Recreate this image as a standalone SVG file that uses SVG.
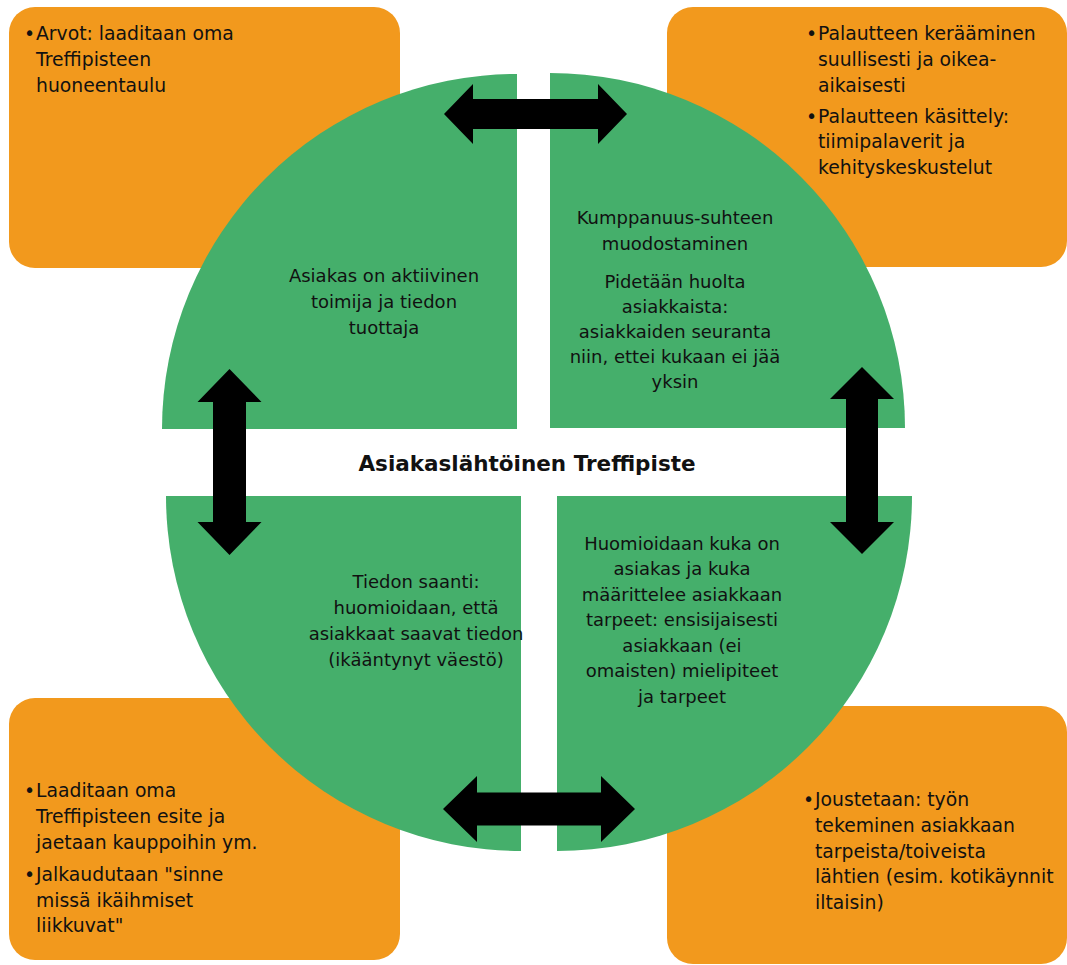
<svg xmlns="http://www.w3.org/2000/svg" width="1067" height="965" viewBox="0 0 1067 965">
<style>
.box{fill:#F2991D}
.q{fill:#45AF6B}
.arr{fill:#000}
text{font-family:"DejaVu Sans","Liberation Sans",sans-serif;fill:#111}
.bt{font-size:18.8px}
.qt{font-size:18px;text-anchor:middle}
.ct{font-size:21.5px;font-weight:bold;text-anchor:middle}
</style>
<rect width="1067" height="965" fill="#fff"/>
<g id="box-tl">
<rect class="box" x="9" y="7" width="391" height="261" rx="26"/>
<text class="bt"><tspan x="24" y="40">•</tspan><tspan x="36" y="40">Arvot: laaditaan oma</tspan><tspan x="36" y="66">Treffipisteen</tspan><tspan x="36" y="92">huoneentaulu</tspan></text>
</g>
<g id="box-tr">
<rect class="box" x="667" y="7" width="400" height="260" rx="26"/>
<text class="bt"><tspan x="806" y="40">•</tspan><tspan x="818" y="40">Palautteen kerääminen</tspan><tspan x="818" y="66">suullisesti ja oikea-</tspan><tspan x="818" y="92">aikaisesti</tspan><tspan x="806" y="123">•</tspan><tspan x="818" y="123">Palautteen käsittely:</tspan><tspan x="818" y="148">tiimipalaverit ja</tspan><tspan x="818" y="174">kehityskeskustelut</tspan></text>
</g>
<g id="box-bl">
<rect class="box" x="9" y="698" width="391" height="262" rx="26"/>
<text class="bt"><tspan x="24" y="797">•</tspan><tspan x="36" y="797">Laaditaan oma</tspan><tspan x="36" y="823">Treffipisteen esite ja</tspan><tspan x="36" y="849">jaetaan kauppoihin ym.</tspan><tspan x="24" y="881">•</tspan><tspan x="36" y="881">Jalkaudutaan "sinne</tspan><tspan x="36" y="907">missä ikäihmiset</tspan><tspan x="36" y="932">liikkuvat"</tspan></text>
</g>
<g id="box-br">
<rect class="box" x="667" y="706" width="400" height="258" rx="26"/>
<text class="bt"><tspan x="803" y="806">•</tspan><tspan x="815" y="806">Joustetaan: työn</tspan><tspan x="815" y="832">tekeminen asiakkaan</tspan><tspan x="815" y="858">tarpeista/toiveista</tspan><tspan x="815" y="883">lähtien (esim. kotikäynnit</tspan><tspan x="815" y="909">iltaisin)</tspan></text>
</g>
<g id="q-tl">
<path class="q" d="M517,429 L162,429 A355,355 0 0 1 517,74 Z"/>
<text class="qt"><tspan x="384" y="282">Asiakas on aktiivinen</tspan><tspan x="384" y="308">toimija ja tiedon</tspan><tspan x="384" y="334">tuottaja</tspan></text>
</g>
<g id="q-tr">
<path class="q" d="M550,428 L550,73 A355,355 0 0 1 905,428 Z"/>
<text class="qt"><tspan x="675" y="224">Kumppanuus-suhteen</tspan><tspan x="675" y="250">muodostaminen</tspan><tspan x="675" y="288">Pidetään huolta</tspan><tspan x="675" y="313">asiakkaista:</tspan><tspan x="675" y="338">asiakkaiden seuranta</tspan><tspan x="675" y="363">niin, ettei kukaan ei jää</tspan><tspan x="675" y="388">yksin</tspan></text>
</g>
<g id="q-bl">
<path class="q" d="M521,496 L521,851 A355,355 0 0 1 166,496 Z"/>
<text class="qt"><tspan x="416" y="588">Tiedon saanti:</tspan><tspan x="416" y="614">huomioidaan, että</tspan><tspan x="416" y="640">asiakkaat saavat tiedon</tspan><tspan x="416" y="666">(ikääntynyt väestö)</tspan></text>
</g>
<g id="q-br">
<path class="q" d="M557,496 L912,496 A355,355 0 0 1 557,851 Z"/>
<text class="qt"><tspan x="682" y="550">Huomioidaan kuka on</tspan><tspan x="682" y="575">asiakas ja kuka</tspan><tspan x="682" y="601">määrittelee asiakkaan</tspan><tspan x="682" y="626">tarpeet: ensisijaisesti</tspan><tspan x="682" y="652">asiakkaan (ei</tspan><tspan x="682" y="677">omaisten) mielipiteet</tspan><tspan x="682" y="703">ja tarpeet</tspan></text>
</g>
<g id="center">
<text class="ct" x="527" y="471">Asiakaslähtöinen Treffipiste</text>
</g>
<g id="connectors">
<polygon class="arr" points="444,114 473,84 473,99 598,99 598,84 627,114 598,144 598,129 473,129 473,144"/>
<polygon class="arr" points="443,809 477,776 477,792.5 601,792.5 601,776 635,809 601,842 601,825.5 477,825.5 477,842"/>
<polygon class="arr" points="229.5,369 261.5,402 246,402 246,522 261.5,522 229.5,555 197.5,522 213,522 213,402 197.5,402"/>
<polygon class="arr" points="862,367 894,399 878,399 878,522 894,522 862,554 830,522 846,522 846,399 830,399"/>
</g>
</svg>
